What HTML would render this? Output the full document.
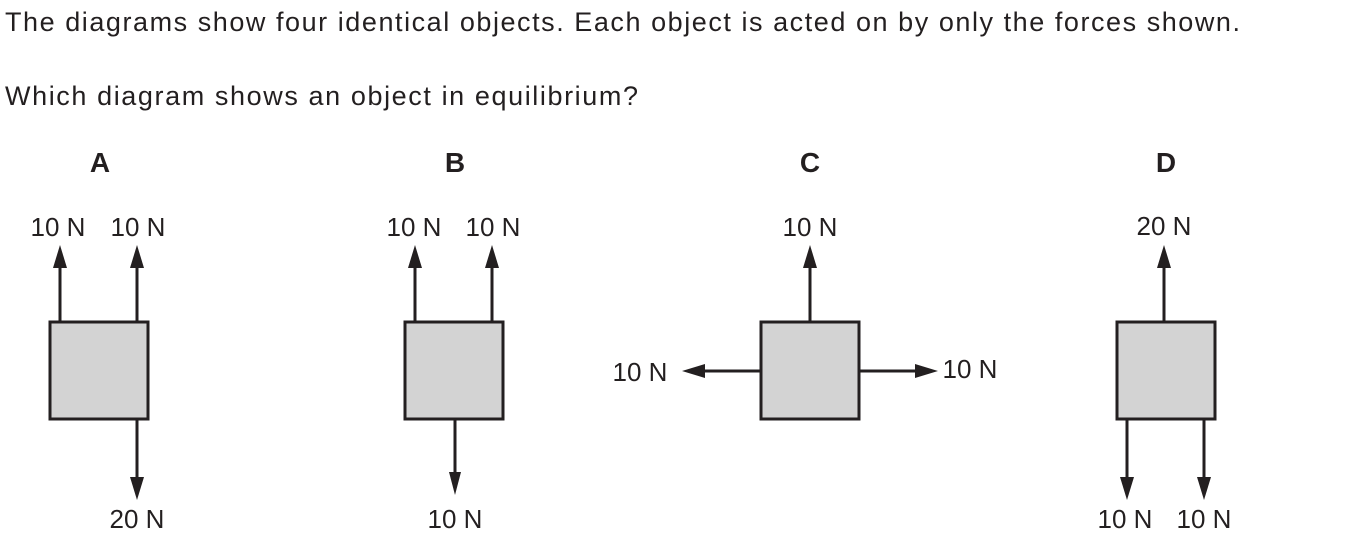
<!DOCTYPE html>
<html><head><meta charset="utf-8"><style>
html,body{margin:0;padding:0;background:#fff;width:1355px;height:539px;overflow:hidden}
svg{display:block}
text{font-family:"Liberation Sans",sans-serif;fill:#231f20}
.q{font-size:27px}
.lab{font-size:28px;font-weight:bold;text-anchor:middle}
.f{font-size:26px;text-anchor:middle}
.box{fill:#d3d3d3;stroke:#231f20;stroke-width:3}
.ln{stroke:#231f20;stroke-width:3}
.hd{fill:#231f20}
</style></head><body>
<svg width="1355" height="539" viewBox="0 0 1355 539">
<text class="q" x="5" y="31" textLength="1235" lengthAdjust="spacing">The diagrams show four identical objects. Each object is acted on by only the forces shown.</text>
<text class="q" x="5" y="105" textLength="633" lengthAdjust="spacing">Which diagram shows an object in equilibrium?</text>

<g>
<text class="lab" x="100" y="172">A</text>
<line class="ln" x1="60" y1="322" x2="60" y2="265"/><polygon class="hd" points="60,245 53,268 67,268"/>
<line class="ln" x1="137" y1="322" x2="137" y2="265"/><polygon class="hd" points="137,245 130,268 144,268"/>
<line class="ln" x1="137" y1="419" x2="137" y2="480"/><polygon class="hd" points="137,500 130,477 144,477"/>
<rect class="box" x="50" y="322" width="98" height="97"/>
<text class="f" x="58" y="236">10 N</text><text class="f" x="138" y="236">10 N</text>
<text class="f" x="137" y="528">20 N</text>
</g>

<g>
<text class="lab" x="455" y="172">B</text>
<line class="ln" x1="415" y1="322" x2="415" y2="265"/><polygon class="hd" points="415,245 408,268 422,268"/>
<line class="ln" x1="492" y1="322" x2="492" y2="265"/><polygon class="hd" points="492,245 485,268 499,268"/>
<line class="ln" x1="455" y1="419" x2="455" y2="475"/><polygon class="hd" points="455,495 449,472 461,472"/>
<rect class="box" x="405" y="322" width="98" height="97"/>
<text class="f" x="414" y="236">10 N</text><text class="f" x="493" y="236">10 N</text>
<text class="f" x="455" y="528">10 N</text>
</g>

<g>
<text class="lab" x="810" y="172">C</text>
<line class="ln" x1="810" y1="322" x2="810" y2="265"/><polygon class="hd" points="810,245 803,268 817,268"/>
<line class="ln" x1="761" y1="371" x2="700" y2="371"/><polygon class="hd" points="682,371 705,364 705,378"/>
<line class="ln" x1="859" y1="371" x2="920" y2="371"/><polygon class="hd" points="938,371 915,364 915,378"/>
<rect class="box" x="761" y="322" width="98" height="97"/>
<text class="f" x="810" y="236">10 N</text>
<text class="f" x="640" y="381">10 N</text><text class="f" x="970" y="378">10 N</text>
</g>

<g>
<text class="lab" x="1166" y="172">D</text>
<line class="ln" x1="1164" y1="322" x2="1164" y2="265"/><polygon class="hd" points="1164,245 1157,268 1171,268"/>
<line class="ln" x1="1127" y1="419" x2="1127" y2="480"/><polygon class="hd" points="1127,500 1120,477 1134,477"/>
<line class="ln" x1="1204" y1="419" x2="1204" y2="480"/><polygon class="hd" points="1204,500 1197,477 1211,477"/>
<rect class="box" x="1117" y="322" width="98" height="97"/>
<text class="f" x="1164" y="235">20 N</text>
<text class="f" x="1125" y="528">10 N</text><text class="f" x="1204" y="528">10 N</text>
</g>
</svg>
</body></html>
